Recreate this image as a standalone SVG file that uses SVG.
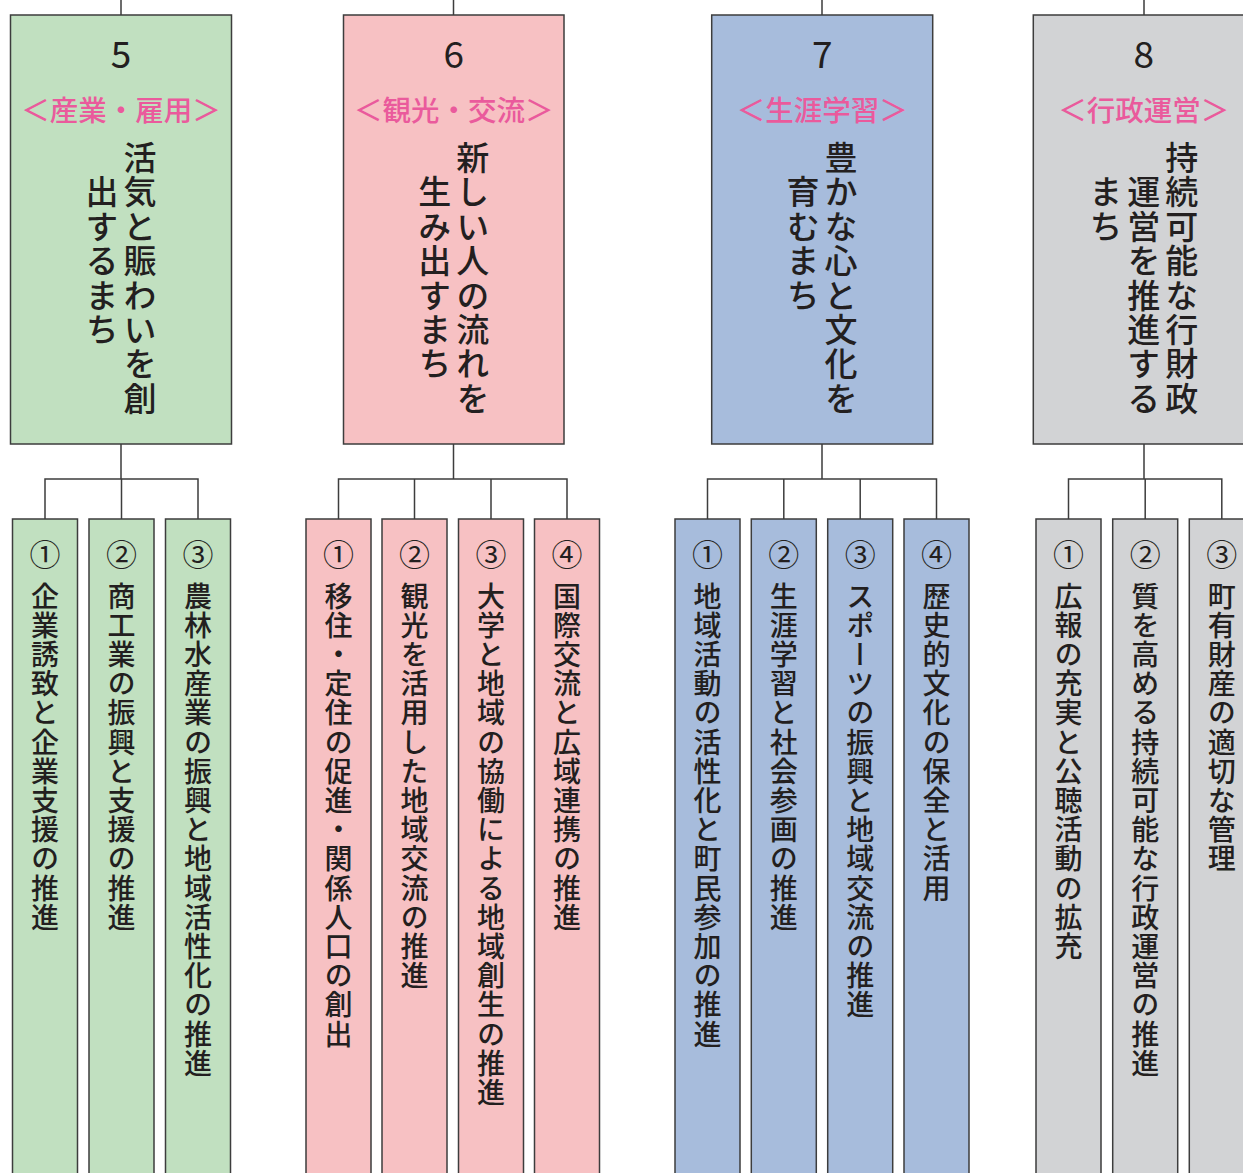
<svg xmlns="http://www.w3.org/2000/svg" width="1243" height="1173" viewBox="0 0 1243 1173">
<style>
.box{stroke:#3d3d3d;stroke-width:1.5}
.g{fill:#c1e0c0}.p{fill:#f7c1c3}.b{fill:#a7bcdc}.k{fill:#d2d3d5}
.num{font-family:"Noto Sans CJK JP","Noto Sans",sans-serif;font-size:37px;font-weight:400;fill:#231f20;text-anchor:middle}
.sub{font-family:"Noto Sans CJK JP",sans-serif;font-size:28.5px;font-weight:500;fill:#ea5a9c;text-anchor:middle;dominant-baseline:central}
.mv{font-family:"Noto Sans CJK JP",sans-serif;font-size:33px;font-weight:500;fill:#231f20;writing-mode:vertical-rl;letter-spacing:1.4px}
.cn{font-family:"Noto Sans CJK JP",sans-serif;font-size:31px;font-weight:400;fill:#231f20;text-anchor:middle;dominant-baseline:central}
.sv{font-family:"Noto Sans CJK JP",sans-serif;font-size:28px;font-weight:500;fill:#231f20;writing-mode:vertical-rl;letter-spacing:1.2px}
.ln{fill:none;stroke:#3d3d3d;stroke-width:1.5}
</style>
<g id="connectors" class="ln">
<path d="M121 0V15M453.5 0V15M822 0V15M1144 0V15"/>
<path d="M121 444V479M45 519V479H198V519M121.5 479V519"/>
<path d="M453.5 444V479M338.5 519V479H567V519M414.5 479V519M491 479V519"/>
<path d="M822 444V479M707.5 519V479H936.5V519M783.8 479V519M860.2 479V519"/>
<path d="M1144 444V479M1068.5 519V479H1221.8V519M1145.2 479V519"/>
</g>
<g id="node5">
<rect class="box g" x="10.5" y="15" width="221" height="429"/>
<text class="num" x="121" y="68">5</text>
<text class="sub" x="121" y="108">＜産業・雇用＞</text>
<text class="mv" x="140" y="141">活気と賑わいを創</text>
<text class="mv" x="102" y="175.4">出するまち</text>
</g>
<g id="node6">
<rect class="box p" x="343.5" y="15" width="220.5" height="429"/>
<text class="num" x="453.7" y="68">6</text>
<text class="sub" x="453.7" y="108">＜観光・交流＞</text>
<text class="mv" x="472.7" y="141">新しい人の流れを</text>
<text class="mv" x="434.7" y="175.4">生み出すまち</text>
</g>
<g id="node7">
<rect class="box b" x="711.7" y="15" width="221" height="429"/>
<text class="num" x="822.2" y="68">7</text>
<text class="sub" x="822.2" y="108">＜生涯学習＞</text>
<text class="mv" x="841" y="141">豊かな心と文化を</text>
<text class="mv" x="803" y="175.4">育むまち</text>
</g>
<g id="node8">
<rect class="box k" x="1033.3" y="15" width="221" height="429"/>
<text class="num" x="1143.7" y="68">8</text>
<text class="sub" x="1143.7" y="108">＜行政運営＞</text>
<text class="mv" x="1181.7" y="141">持続可能な行財政</text>
<text class="mv" x="1143.7" y="175.4">運営を推進する</text>
<text class="mv" x="1105.7" y="175.4">まち</text>
</g>
<g id="node5-1"><rect class="box g" x="12.5" y="519" width="65" height="700"/><text class="cn" x="45" y="552">①</text><text class="sv" x="45" y="582">企業誘致と企業支援の推進</text></g>
<g id="node5-2"><rect class="box g" x="89" y="519" width="65" height="700"/><text class="cn" x="121.5" y="552">②</text><text class="sv" x="121.5" y="582">商工業の振興と支援の推進</text></g>
<g id="node5-3"><rect class="box g" x="165.5" y="519" width="65" height="700"/><text class="cn" x="198" y="552">③</text><text class="sv" x="198" y="582">農林水産業の振興と地域活性化の推進</text></g>
<g id="node6-1"><rect class="box p" x="306" y="519" width="65" height="700"/><text class="cn" x="338.5" y="552">①</text><text class="sv" x="338.5" y="582">移住・定住の促進・関係人口の創出</text></g>
<g id="node6-2"><rect class="box p" x="382" y="519" width="65" height="700"/><text class="cn" x="414.5" y="552">②</text><text class="sv" x="414.5" y="582">観光を活用した地域交流の推進</text></g>
<g id="node6-3"><rect class="box p" x="458.5" y="519" width="65" height="700"/><text class="cn" x="491" y="552">③</text><text class="sv" x="491" y="582">大学と地域の協働による地域創生の推進</text></g>
<g id="node6-4"><rect class="box p" x="534.5" y="519" width="65" height="700"/><text class="cn" x="567" y="552">④</text><text class="sv" x="567" y="582">国際交流と広域連携の推進</text></g>
<g id="node7-1"><rect class="box b" x="675" y="519" width="65" height="700"/><text class="cn" x="707.5" y="552">①</text><text class="sv" x="707.5" y="582">地域活動の活性化と町民参加の推進</text></g>
<g id="node7-2"><rect class="box b" x="751.3" y="519" width="65" height="700"/><text class="cn" x="783.8" y="552">②</text><text class="sv" x="783.8" y="582">生涯学習と社会参画の推進</text></g>
<g id="node7-3"><rect class="box b" x="827.7" y="519" width="65" height="700"/><text class="cn" x="860.2" y="552">③</text><text class="sv" x="860.2" y="582">スポーツの振興と地域交流の推進</text></g>
<g id="node7-4"><rect class="box b" x="904" y="519" width="65" height="700"/><text class="cn" x="936.5" y="552">④</text><text class="sv" x="936.5" y="582">歴史的文化の保全と活用</text></g>
<g id="node8-1"><rect class="box k" x="1036" y="519" width="65" height="700"/><text class="cn" x="1068.5" y="552">①</text><text class="sv" x="1068.5" y="582">広報の充実と公聴活動の拡充</text></g>
<g id="node8-2"><rect class="box k" x="1112.7" y="519" width="65" height="700"/><text class="cn" x="1145.2" y="552">②</text><text class="sv" x="1145.2" y="582">質を高める持続可能な行政運営の推進</text></g>
<g id="node8-3"><rect class="box k" x="1189.3" y="519" width="65" height="700"/><text class="cn" x="1221.8" y="552">③</text><text class="sv" x="1221.8" y="582">町有財産の適切な管理</text></g>
</svg>
